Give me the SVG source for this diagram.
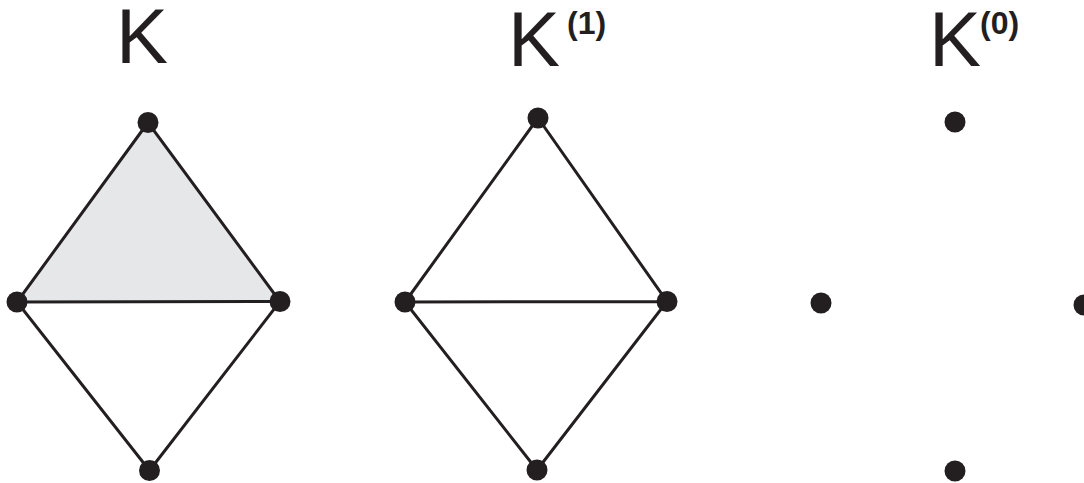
<svg xmlns="http://www.w3.org/2000/svg" width="1084" height="483" viewBox="0 0 1084 483">
<style>
.e{stroke:#231f20;stroke-width:3;fill:none;stroke-linecap:round}
.v{fill:#231f20}
.t{font-family:"Liberation Sans",Arial,sans-serif;font-size:78px;fill:#231f20}
.s{font-family:"Liberation Sans",Arial,sans-serif;font-size:32px;font-weight:bold;fill:#231f20}
</style>
<rect width="1084" height="483" fill="#ffffff"/>
<g id="labels">
<text class="t" x="116" y="63">K</text>
<text class="t" x="508" y="66">K</text><text class="s" x="567" y="34">(1)</text>
<text class="t" x="929" y="66">K</text><text class="s" x="980" y="34">(0)</text>
</g>
<g id="face">
<polygon points="148,122.5 17,302 280,301.5" fill="#e6e7e8" stroke="none"/>
</g>
<g id="connectors">
<path class="e" d="M148,122.5 L17,302 L149.5,470.5 L280,301.5 Z M17,302 L280,301.5"/>
<path class="e" d="M538,118 L405,302 L537,470 L667,301.5 Z M405,302 L667,301.5"/>
</g>
<g id="K-top"><circle class="v" cx="148" cy="122.5" r="10.5"/></g>
<g id="K-left"><circle class="v" cx="17" cy="302" r="10.5"/></g>
<g id="K-right"><circle class="v" cx="280" cy="301.5" r="10.5"/></g>
<g id="K-bottom"><circle class="v" cx="149.5" cy="470.5" r="10.5"/></g>
<g id="K1-top"><circle class="v" cx="538" cy="118" r="10.5"/></g>
<g id="K1-left"><circle class="v" cx="405" cy="302" r="10.5"/></g>
<g id="K1-right"><circle class="v" cx="667" cy="301.5" r="10.5"/></g>
<g id="K1-bottom"><circle class="v" cx="537" cy="470" r="10.5"/></g>
<g id="K0-top"><circle class="v" cx="955" cy="122" r="10.5"/></g>
<g id="K0-left"><circle class="v" cx="821" cy="303" r="10.5"/></g>
<g id="K0-right"><circle class="v" cx="1084" cy="305" r="10.5"/></g>
<g id="K0-bottom"><circle class="v" cx="955" cy="471" r="10.5"/></g>
</svg>
